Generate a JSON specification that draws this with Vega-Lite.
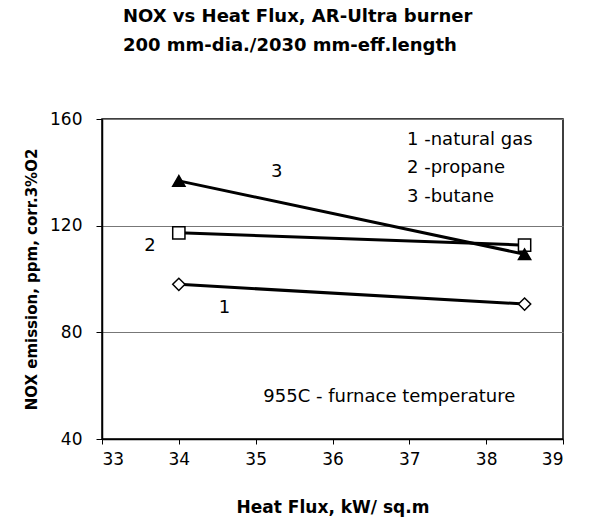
{
  "$schema": "https://vega.github.io/schema/vega-lite/v6.json",
  "width": 461,
  "height": 320,
  "autosize": "none",
  "padding": {"left": 102, "top": 119, "right": 27, "bottom": 88},
  "background": "white",
  "config": {
    "font": "DejaVu Sans",
    "view": {"stroke": "black", "strokeWidth": 1.5},
    "axis": {"labelFont": "DejaVu Sans", "titleFont": "DejaVu Sans", "labelColor": "black", "titleColor": "black", "domainColor": "black", "tickColor": "black"}
  },
  "title": {
    "text": ["NOX vs Heat Flux, AR-Ultra burner", "200 mm-dia./2030 mm-eff.length"],
    "anchor": "start",
    "frame": "group",
    "dx": 21,
    "offset": 55,
    "fontSize": 18,
    "fontWeight": "bold",
    "lineHeight": 29,
    "color": "black",
    "font": "DejaVu Sans"
  },
  "datasets": {
    "series": [
      {"fuel": "1", "flux": 34, "nox": 98},
      {"fuel": "1", "flux": 38.5, "nox": 90.6},
      {"fuel": "2", "flux": 34, "nox": 117.3},
      {"fuel": "2", "flux": 38.5, "nox": 112.7},
      {"fuel": "3", "flux": 34, "nox": 136.8},
      {"fuel": "3", "flux": 38.5, "nox": 109.3}
    ],
    "notes": [
      {"label": "3", "x": 35.2, "y": 140},
      {"label": "2", "x": 33.55, "y": 112.4},
      {"label": "1", "x": 34.52, "y": 89},
      {"label": "1 -natural gas", "x": 36.97, "y": 152},
      {"label": "2 -propane", "x": 36.97, "y": 141.6},
      {"label": "3 -butane", "x": 36.97, "y": 130.9},
      {"label": "955C - furnace temperature", "x": 35.1, "y": 55.8}
    ]
  },
  "layer": [
    {
      "data": {"name": "series"},
      "mark": {"type": "line", "color": "black", "strokeWidth": 3},
      "encoding": {
        "x": {
          "field": "flux", "type": "quantitative",
          "scale": {"domain": [33, 39], "nice": false, "zero": false},
          "axis": {"values": [33, 34, 35, 36, 37, 38, 39], "format": "d", "grid": false, "title": "Heat Flux, kW/ sq.m", "titleFontSize": 17, "titleFontWeight": "bold", "titlePadding": 32, "labelFontSize": 17, "labelPadding": 7, "tickSize": 5, "domainWidth": 1.5}
        },
        "y": {
          "field": "nox", "type": "quantitative",
          "scale": {"domain": [40, 160], "nice": false, "zero": false},
          "axis": {"values": [40, 80, 120, 160], "format": "d", "grid": true, "gridColor": "#777777", "gridWidth": 1, "title": "NOX emission, ppm, corr.3%O2", "titleFontSize": 15, "titleFontWeight": "bold", "titlePadding": 10, "labelFontSize": 17, "labelPadding": 14, "tickSize": 6, "domainWidth": 1.5}
        },
        "detail": {"field": "fuel"}
      }
    },
    {
      "data": {"name": "series"},
      "mark": {"type": "point", "filled": true, "stroke": "black", "strokeWidth": 1.5, "size": 150, "opacity": 1},
      "encoding": {
        "x": {"field": "flux", "type": "quantitative"},
        "y": {"field": "nox", "type": "quantitative"},
        "shape": {"field": "fuel", "type": "nominal", "scale": {"domain": ["1", "2", "3"], "range": ["diamond", "square", "triangle-up"]}, "legend": null},
        "fill": {"field": "fuel", "type": "nominal", "scale": {"domain": ["1", "2", "3"], "range": ["white", "white", "black"]}, "legend": null}
      }
    },
    {
      "data": {"name": "notes"},
      "mark": {"type": "text", "align": "left", "baseline": "middle", "fontSize": 18, "color": "black"},
      "encoding": {
        "x": {"field": "x", "type": "quantitative"},
        "y": {"field": "y", "type": "quantitative"},
        "text": {"field": "label"}
      }
    }
  ]
}
